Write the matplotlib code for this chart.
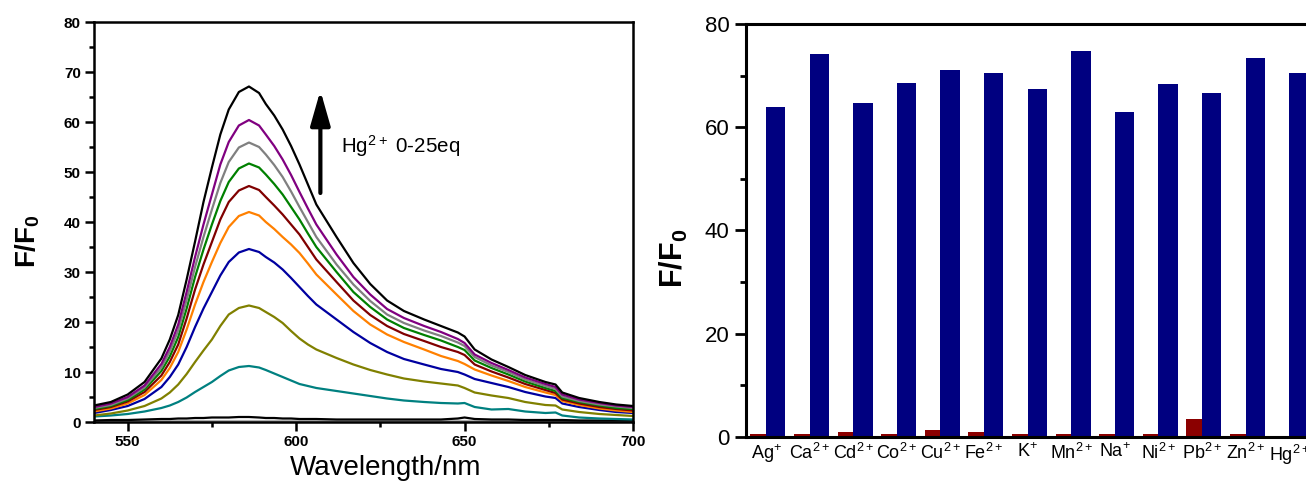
import numpy as np
import matplotlib
matplotlib.use("Agg")
import matplotlib.pyplot as plt
from matplotlib.ticker import MultipleLocator

plt.rcParams['font.family'] = ['Liberation Sans', 'DejaVu Sans']
plt.rcParams['mathtext.default'] = 'regular'

# ---- left panel: emission spectra during Hg2+ titration ----
wavelength = [540, 545, 550, 555, 560, 562.5, 565, 567.5, 570, 572.5, 575, 577.5, 580,
              583, 586, 589, 591, 593.5, 596, 598.5, 601, 603.5, 606, 612, 617, 622,
              627, 632, 638, 643, 648, 650, 653, 658, 663, 668, 674, 677, 679, 684,
              690, 695, 700]

spec_25 = [3.3, 4.0, 5.5, 8.0, 12.7, 16.5, 21.4, 28.5, 36.1, 44.0, 50.9, 57.5, 62.5,
           66.0, 67.1, 65.8, 63.6, 61.3, 58.5, 55.2, 51.5, 47.5, 43.5, 37.0, 31.8, 27.6,
           24.3, 22.2, 20.5, 19.2, 17.9, 17.1, 14.5, 12.5, 11.0, 9.4, 8.0, 7.5, 5.9, 4.8,
           4.0, 3.5, 3.2]
spec_p = [3.0, 3.7, 5.0, 7.3, 11.6, 15.0, 19.5, 26.0, 33.0, 39.5, 45.5, 51.5, 56.0,
          59.3, 60.4, 59.3, 57.5, 55.2, 52.5, 49.4, 46.0, 42.7, 39.5, 33.5, 29.0, 25.5,
          22.6, 20.8, 19.2, 18.0, 16.6, 15.8, 13.5, 11.8, 10.4, 8.9, 7.6, 7.0, 5.5, 4.5,
          3.8, 3.3, 3.0]
spec_g = [2.8, 3.4, 4.7, 6.9, 10.9, 14.1, 18.3, 24.4, 31.0, 37.0, 42.5, 47.8, 52.0,
          54.9, 55.9, 55.0, 53.5, 51.4, 49.0, 46.1, 43.0, 40.0, 37.0, 31.5, 27.5, 24.2,
          21.5, 19.8, 18.3, 17.2, 15.9, 15.2, 13.0, 11.3, 10.0, 8.5, 7.2, 6.6, 5.1, 4.2,
          3.5, 3.1, 2.8]
spec_gr = [2.6, 3.2, 4.4, 6.5, 10.2, 13.1, 17.0, 22.7, 29.0, 34.5, 39.5, 44.2, 48.0,
           50.7, 51.7, 50.9, 49.5, 47.6, 45.5, 43.0, 40.5, 37.7, 35.0, 30.0, 26.0, 23.0,
           20.5, 18.8, 17.4, 16.3, 15.0, 14.4, 12.3, 10.8, 9.5, 8.1, 6.8, 6.2, 4.8, 4.0,
           3.3, 2.8, 2.6]
spec_r = [2.4, 3.0, 4.1, 6.0, 9.3, 12.0, 15.5, 20.7, 26.5, 31.5, 36.0, 40.5, 44.0,
          46.3, 47.2, 46.4, 45.0, 43.3, 41.5, 39.5, 37.5, 35.0, 32.5, 28.0, 24.3, 21.4,
          19.2, 17.6, 16.2, 15.0, 14.0, 13.4, 11.5, 10.1, 8.9, 7.6, 6.4, 5.8, 4.5, 3.7,
          3.0, 2.6, 2.3]
spec_o = [2.1, 2.7, 3.7, 5.4, 8.4, 10.8, 14.0, 18.5, 23.5, 28.0, 32.0, 35.8, 39.0,
          41.2, 42.0, 41.3, 40.0, 38.6, 37.0, 35.5, 33.8, 31.7, 29.5, 25.5, 22.2, 19.5,
          17.5, 16.0, 14.5, 13.2, 12.2, 11.6, 10.5, 9.3, 8.2, 7.0, 5.9, 5.4, 4.2, 3.4,
          2.7, 2.3, 2.0]
spec_b = [1.8, 2.4, 3.2, 4.6, 7.0, 9.0, 11.5, 15.0, 19.0, 22.7, 26.0, 29.3, 32.0,
          33.9, 34.6, 34.0, 33.0, 31.9, 30.5, 28.8, 27.0, 25.2, 23.5, 20.5, 18.0, 15.8,
          14.0, 12.6, 11.5, 10.6, 10.0, 9.5, 8.6, 7.8, 7.0, 6.0, 5.1, 4.8, 3.7, 3.0,
          2.4, 2.0, 1.8]
spec_ol = [1.3, 1.7, 2.3, 3.2, 4.7, 5.9, 7.5, 9.6, 12.0, 14.3, 16.5, 19.2, 21.5,
           22.8, 23.3, 22.8, 22.0, 21.0, 19.8, 18.2, 16.7, 15.5, 14.5, 12.8, 11.5, 10.4,
           9.5, 8.7, 8.1, 7.7, 7.3, 6.8, 5.9, 5.3, 4.8, 4.0, 3.4, 3.3, 2.5, 2.0,
           1.6, 1.4, 1.2]
spec_t = [1.1, 1.3, 1.6, 2.1, 2.8, 3.3, 4.0, 4.9, 6.0, 7.0, 8.0, 9.2, 10.3,
          11.0, 11.2, 10.9, 10.4, 9.7, 9.0, 8.3, 7.6, 7.2, 6.8, 6.2, 5.7, 5.2,
          4.7, 4.3, 4.0, 3.8, 3.7, 3.8, 3.0, 2.5, 2.6, 2.1, 1.8, 1.9, 1.3, 0.9,
          0.7, 0.6, 0.5]
spec_0 = [0.3, 0.4, 0.4, 0.5, 0.6, 0.6, 0.7, 0.7, 0.8, 0.8, 0.9, 0.9, 0.9,
          1.0, 1.0, 0.9, 0.8, 0.8, 0.7, 0.7, 0.6, 0.6, 0.6, 0.5, 0.5, 0.5,
          0.5, 0.5, 0.5, 0.5, 0.7, 0.9, 0.6, 0.5, 0.5, 0.4, 0.4, 0.4, 0.4, 0.3,
          0.3, 0.3, 0.3]
spec_0b = [0.2] * len(wavelength)

spectra = [spec_0b, spec_0, spec_t, spec_ol, spec_b, spec_o, spec_r, spec_gr, spec_g, spec_p, spec_25]
colors = ['#b0b0b0', 'black', '#008080', '#808000', '#0000a0', '#ff8000',
          '#800000', '#008000', '#808080', '#800080', 'black']

# ---- right panel: selectivity bars ----
ions = ['Ag$^{+}$', 'Ca$^{2+}$', 'Cd$^{2+}$', 'Co$^{2+}$', 'Cu$^{2+}$', 'Fe$^{2+}$', 'K$^{+}$',
        'Mn$^{2+}$', 'Na$^{+}$', 'Ni$^{2+}$', 'Pb$^{2+}$', 'Zn$^{2+}$', 'Hg$^{2+}$']
ion_alone = [0.5, 0.5, 0.9, 0.5, 1.3, 1.0, 0.5, 0.5, 0.5, 0.5, 3.4, 0.5, 0.0]
ion_with_hg = [64.0, 74.1, 64.7, 68.5, 71.0, 70.6, 67.5, 74.8, 63.0, 68.4, 66.7, 73.4, 70.6]

W, H = 1306, 494
fig = plt.figure(figsize=(W / 100, H / 100), dpi=100)

ax1 = fig.add_axes([94 / W, 1 - 422 / H, (633 - 94) / W, (422 - 22) / H])
for s, c in zip(spectra, colors):
    ax1.plot(wavelength, s, color=c, lw=1.6)
ax1.set_xlim(540, 700)
ax1.set_ylim(0, 80)
ax1.xaxis.set_major_locator(MultipleLocator(50))
ax1.xaxis.set_minor_locator(MultipleLocator(25))
ax1.yaxis.set_major_locator(MultipleLocator(10))
ax1.yaxis.set_minor_locator(MultipleLocator(5))
for sp in ax1.spines.values():
    sp.set_linewidth(1.8)
ax1.tick_params(which='major', direction='out', length=6.5, width=1.8, pad=3,
                labelsize=11, top=False, right=False)
ax1.tick_params(which='minor', direction='out', length=3.6, width=1.8, top=False, right=False)
for lab in ax1.get_xticklabels() + ax1.get_yticklabels():
    lab.set_fontweight('bold')

ax1.annotate('', xy=(607.2, 66.3), xytext=(607.2, 45.8),
             arrowprops=dict(arrowstyle='-|>,head_length=2.1,head_width=0.6',
                             lw=3, color='black', shrinkA=0, shrinkB=0))
ax1.text(613.3, 55.2, 'Hg$^{2+}$ 0-25eq', fontsize=14.8, va='center', ha='left')

fig.text(27.5 / W, 1 - 241 / H, 'F/F$_0$', rotation=90, ha='center', va='center',
         fontsize=20, fontweight='bold')
fig.text(386 / W, 1 - 468 / H, 'Wavelength/nm', ha='center', va='center', fontsize=20)

# right panel, runs past the right edge of the figure like the original
px = 43.6
ax2 = fig.add_axes([746 / W, 1 - 437 / H, (1340 - 746) / W, (437 - 24) / H])
x = np.arange(len(ions))
ax2.bar(x - 0.18, ion_alone, width=0.36, color='#8b0000')
ax2.bar(x + 0.2225, ion_with_hg, width=0.445, color='#000080')
ax2.set_xlim(-20 / px, -20 / px + (1340 - 746) / px)
ax2.set_ylim(0, 80)
ax2.set_xticks(x)
ax2.set_xticklabels(ions, fontsize=13)
ax2.yaxis.set_major_locator(MultipleLocator(20))
ax2.yaxis.set_minor_locator(MultipleLocator(10))
for sp in ax2.spines.values():
    sp.set_linewidth(2.2)
ax2.tick_params(axis='x', length=0, pad=4)
ax2.tick_params(axis='y', which='major', direction='out', length=8, width=2.0, pad=4, labelsize=16)
ax2.tick_params(axis='y', which='minor', direction='out', length=4, width=2.0)

fig.text(674 / W, 1 - 258 / H, 'F/F$_0$', rotation=90, ha='center', va='center',
         fontsize=22, fontweight='bold')

fig.savefig('out.png', dpi=100)
